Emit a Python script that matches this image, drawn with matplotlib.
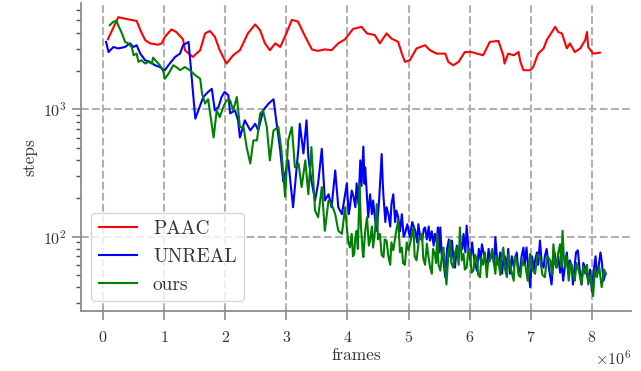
import numpy as np
import matplotlib
matplotlib.use("Agg")
import matplotlib.pyplot as plt
from matplotlib.ticker import ScalarFormatter

paac_x = [0.08, 0.25, 0.41, 0.55, 0.63, 0.69, 0.77, 0.90, 0.96, 1.01, 1.12, 1.20, 1.31,
          1.34, 1.47, 1.59, 1.67, 1.75, 1.83, 1.91, 2.02, 2.13, 2.24, 2.37, 2.49, 2.57,
          2.65, 2.73, 2.82, 2.90, 3.00, 3.09, 3.19, 3.31, 3.42, 3.52, 3.63, 3.74, 3.85,
          3.96, 4.09, 4.23, 4.32, 4.45, 4.53, 4.64, 4.72, 4.83, 4.89, 4.94, 5.02, 5.13,
          5.27, 5.35, 5.46, 5.60, 5.65, 5.73, 5.82, 5.92, 6.03, 6.12, 6.22, 6.33, 6.47,
          6.55, 6.57, 6.63, 6.72, 6.80, 6.83, 6.88, 6.99, 7.04, 7.12, 7.21, 7.26, 7.40,
          7.45, 7.51, 7.59, 7.64, 7.72, 7.81, 7.89, 7.92, 7.94, 8.02, 8.13]
paac_y = [3560, 5300, 5100, 4950, 4000, 3500, 3300, 3220, 3300, 3700, 4250, 4050, 3550,
          2915, 2580, 2915, 3950, 4130, 3720, 2915, 2290, 2660, 2915, 3950, 4650, 4190,
          3300, 2915, 3300, 3090, 3950, 5050, 4900, 3720, 2950, 2880, 2960, 2915, 3300,
          3550, 4280, 4450, 3950, 3830, 3300, 3950, 3600, 3390, 2740, 2360, 2430, 3010,
          3190, 2915, 2740, 2740, 2360, 2220, 2360, 2820, 2820, 2740, 2660, 3390, 3450,
          2660, 2290, 2740, 2660, 2820, 2360, 2030, 2030, 2150, 2740, 3010, 3500, 4450,
          4050, 3950, 3010, 3300, 2820, 3010, 3500, 4050, 3090, 2740, 2790]

unreal_x = [0.05, 0.09, 0.17, 0.25, 0.36, 0.44, 0.50, 0.55, 0.61, 0.69, 0.77, 0.85, 0.93,
            1.01, 1.07, 1.18, 1.26, 1.31, 1.40, 1.45, 1.51, 1.56, 1.64, 1.72, 1.78, 1.83,
            1.89, 1.94, 1.99, 2.05, 2.08, 2.16, 2.21, 2.24, 2.32, 2.41, 2.49, 2.54, 2.62,
            2.71, 2.79, 2.82, 2.90, 2.95, 3.03, 3.11, 3.20, 3.22, 3.28, 3.33, 3.36, 3.41,
            3.47, 3.52, 3.58, 3.63, 3.69, 3.74, 3.80, 3.85, 3.91, 3.99,
            4.02, 4.04, 4.07, 4.10, 4.13, 4.15, 4.18, 4.21, 4.23, 4.26, 4.28, 4.29, 4.32,
            4.34, 4.37, 4.40, 4.42, 4.45, 4.48, 4.52, 4.56, 4.58, 4.59, 4.62, 4.64, 4.67,
            4.70, 4.72, 4.75, 4.78, 4.80, 4.83, 4.86, 4.89, 4.92, 4.94, 4.98, 5.02, 5.06,
            5.11, 5.14, 5.16, 5.19, 5.22, 5.25, 5.27, 5.30, 5.33, 5.35, 5.38, 5.41, 5.43,
            5.46, 5.48, 5.50, 5.52, 5.54, 5.57, 5.60, 5.63, 5.66, 5.68, 5.71, 5.73, 5.76,
            5.79, 5.82, 5.85, 5.88, 5.90, 5.93, 5.95, 5.98, 6.01, 6.04, 6.06, 6.09, 6.12,
            6.15, 6.18, 6.20, 6.24, 6.28, 6.31, 6.33, 6.37, 6.40, 6.42, 6.45, 6.47, 6.50,
            6.53, 6.56, 6.58, 6.61, 6.63, 6.66, 6.69, 6.72, 6.74, 6.77, 6.80, 6.83, 6.85,
            6.88, 6.90, 6.93, 6.96, 6.99, 7.02, 7.05, 7.07, 7.10, 7.12, 7.15, 7.18, 7.21,
            7.23, 7.26, 7.30, 7.34, 7.37, 7.39, 7.42, 7.45, 7.48, 7.50, 7.53, 7.56, 7.59,
            7.61, 7.64, 7.67, 7.69, 7.72, 7.74, 7.77, 7.80, 7.83, 7.86, 7.89, 7.92, 7.94,
            7.97, 8.00, 8.03, 8.06, 8.08, 8.11, 8.14, 8.16, 8.19, 8.22]
unreal_y = [3390, 2820, 3090, 3010, 3090, 3300, 3090, 3190, 2740, 2430, 2360, 2220, 2150,
            2030, 2220, 2580, 2740, 3190, 3390, 1800, 845, 980, 1250, 1370, 1450, 980,
            1045, 1250, 1370, 1290, 930, 980, 820, 600, 820, 683, 770, 683, 980,
            1110, 1200, 925, 475, 270, 397, 170, 510, 770, 450, 820, 420, 276,
            192, 262, 490, 192, 215, 170, 331, 170, 150, 262,
            150, 170, 230, 205, 170, 262, 180, 397, 250, 510, 260, 350, 200,
            142, 215, 150, 192, 140, 111, 200, 445, 250, 205, 130, 170, 150,
            120, 180, 215, 130, 160, 142, 110, 150, 100, 105, 125, 99, 130,
            111, 90, 125, 100, 93, 115, 118, 95, 120, 93, 110, 85, 105,
            90, 118, 75, 118, 73, 65, 48, 80, 95, 70, 93, 70, 57,
            85, 73, 90, 80, 105, 75, 122, 80, 65, 90, 73, 60, 54,
            80, 65, 87, 70, 57, 80, 65, 75, 60, 99, 65, 60, 75,
            51, 72, 69, 55, 80, 51, 70, 58, 65, 75, 52, 57, 70,
            82, 60, 82, 55, 40, 70, 55, 65, 75, 60, 93, 62, 57,
            70, 80, 55, 42, 65, 75, 57, 70, 52, 68, 45, 60, 75,
            55, 65, 58, 42, 60, 75, 78, 55, 42, 62, 57, 50, 45,
            55, 37, 55, 70, 51, 58, 75, 65, 45, 51]

ours_x = [0.11, 0.17, 0.22, 0.26, 0.31, 0.36, 0.41, 0.47, 0.50, 0.55, 0.58, 0.63, 0.69,
          0.74, 0.80, 0.82, 0.88, 0.93, 0.99, 1.01, 1.07, 1.15, 1.20, 1.26, 1.34, 1.42,
          1.51, 1.59, 1.62, 1.67, 1.72, 1.81, 1.86, 1.91, 1.97, 2.02, 2.08, 2.13, 2.19,
          2.24, 2.30, 2.35, 2.41, 2.46, 2.52, 2.57, 2.62, 2.68, 2.73, 2.79, 2.87, 2.92,
          2.98, 3.03, 3.09, 3.14, 3.20, 3.25, 3.31, 3.36, 3.41, 3.47, 3.52, 3.58, 3.63,
          3.69, 3.74, 3.80, 3.85, 3.91, 3.96,
          4.01, 4.04, 4.07, 4.09, 4.11, 4.13, 4.15, 4.17, 4.20, 4.22, 4.23, 4.25, 4.26,
          4.29, 4.32, 4.35, 4.37, 4.40, 4.42, 4.45, 4.48, 4.50, 4.53, 4.56, 4.59, 4.61,
          4.64, 4.67, 4.70, 4.72, 4.75, 4.79, 4.83, 4.86, 4.89, 4.91, 4.94, 4.97, 5.00,
          5.04, 5.08, 5.10, 5.13, 5.17, 5.22, 5.24, 5.27, 5.30, 5.32, 5.35, 5.38, 5.40,
          5.43, 5.45, 5.47, 5.49, 5.52, 5.55, 5.57, 5.60, 5.62, 5.65, 5.68, 5.70, 5.73,
          5.76, 5.79, 5.82, 5.84, 5.87, 5.90, 5.92, 5.95, 5.98, 6.01, 6.03, 6.06, 6.09,
          6.12, 6.14, 6.17, 6.19, 6.22, 6.25, 6.28, 6.30, 6.33, 6.37, 6.42, 6.44, 6.47,
          6.50, 6.52, 6.55, 6.58, 6.61, 6.63, 6.66, 6.69, 6.72, 6.74, 6.77, 6.80, 6.83,
          6.86, 6.88, 6.91, 6.95, 6.99, 7.03, 7.07, 7.11, 7.15, 7.19, 7.23, 7.27, 7.32,
          7.35, 7.37, 7.40, 7.42, 7.45, 7.48, 7.50, 7.52, 7.54, 7.56, 7.59, 7.62, 7.65,
          7.67, 7.70, 7.72, 7.75, 7.77, 7.80, 7.83, 7.86, 7.89, 7.92, 7.94, 7.98, 8.02,
          8.05, 8.08, 8.12, 8.16, 8.20, 8.23]
ours_y = [4585, 4880, 4950, 4450, 3950, 3390, 3300, 3090, 2660, 2740, 2360, 2430, 2290,
          2360, 2290, 2550, 2360, 2220, 1970, 1740, 1900, 2220, 2150, 2030, 2150, 2030,
          1853, 1740, 1330, 1110, 1200, 600, 980, 870, 1045, 1177, 1177, 980, 1250,
          725, 725, 505, 375, 570, 570, 925, 980, 725, 397, 683, 725, 475,
          205, 570, 725, 350, 375, 245, 397, 215, 505, 160, 142, 245, 111,
          192, 180, 150, 111, 105, 170,
          93, 82, 105, 70, 73, 100, 111, 80, 262, 120, 105, 75, 69,
          110, 142, 85, 93, 120, 82, 110, 180, 95, 105, 72, 69, 95,
          93, 70, 60, 90, 78, 105, 134, 75, 82, 62, 60, 90, 78,
          95, 118, 70, 65, 95, 105, 68, 60, 88, 73, 58, 51, 80,
          73, 62, 105, 60, 54, 75, 82, 55, 42, 70, 93, 62, 57,
          75, 82, 60, 118, 65, 73, 55, 57, 80, 73, 52, 54, 72,
          65, 50, 48, 68, 60, 75, 48, 62, 65, 80, 51, 70, 65,
          50, 68, 82, 55, 48, 72, 60, 52, 45, 70, 65, 50, 48,
          66, 60, 60, 45, 73, 55, 51, 72, 69, 50, 48, 70, 65,
          50, 87, 60, 57, 75, 87, 58, 111, 70, 57, 70, 45, 62,
          60, 48, 45, 62, 57, 50, 42, 58, 51, 60, 42, 50, 34,
          55, 48, 58, 40, 55, 51]

plt.rcParams['font.family'] = 'cmr10'
plt.rcParams['mathtext.fontset'] = 'cm'
plt.rcParams['axes.unicode_minus'] = False
plt.rcParams['axes.formatter.use_mathtext'] = True

fig = plt.figure(figsize=(6.41, 3.71), dpi=100)
ax = fig.add_axes([0.1264, 0.1617, 0.858, 0.830])

ax.plot(np.array(paac_x) * 1e6, paac_y, color='red', lw=1.5, label='PAAC')
ax.plot(np.array(unreal_x) * 1e6, unreal_y, color='blue', lw=1.5, label='UNREAL')
ax.plot(np.array(ours_x) * 1e6, ours_y, color='green', lw=1.5, label='ours')

ax.set_yscale('log')
ax.set_ylim(26, 6840)
ax.set_xlim(-0.36e6, 8.64e6)
ax.set_xticks(np.arange(0, 9) * 1e6)
fmt = ScalarFormatter(useMathText=True)
fmt.set_powerlimits((0, 0))
ax.xaxis.set_major_formatter(fmt)

for s in ['top', 'right']:
    ax.spines[s].set_visible(False)
for s in ['left', 'bottom']:
    ax.spines[s].set_color('#8c8c8c')
    ax.spines[s].set_linewidth(1.3)

ax.grid(True, which='major', ls='--', color='#b0b0b0', lw=1.5)
ax.tick_params(which='major', length=6.5, width=1.2, color='#8c8c8c', labelsize=11.5,
               labelcolor='#333333')
ax.tick_params(which='minor', length=3.5, width=1.0, color='#555555')
ax.tick_params(axis='x', pad=7)

ax.set_xlabel('frames', fontsize=12.5, color='#333333', labelpad=2)
ax.set_ylabel('steps', fontsize=12.5, color='#333333')
ax.xaxis.get_offset_text().set_fontsize(11.5)
ax.xaxis.get_offset_text().set_color('#333333')

leg = ax.legend(loc='lower left', fontsize=14, fancybox=True,
                framealpha=0.8, edgecolor='#cccccc', borderaxespad=0.5)
for t in leg.get_texts():
    t.set_color('#333333')

fig.savefig('out.png', dpi=100)
